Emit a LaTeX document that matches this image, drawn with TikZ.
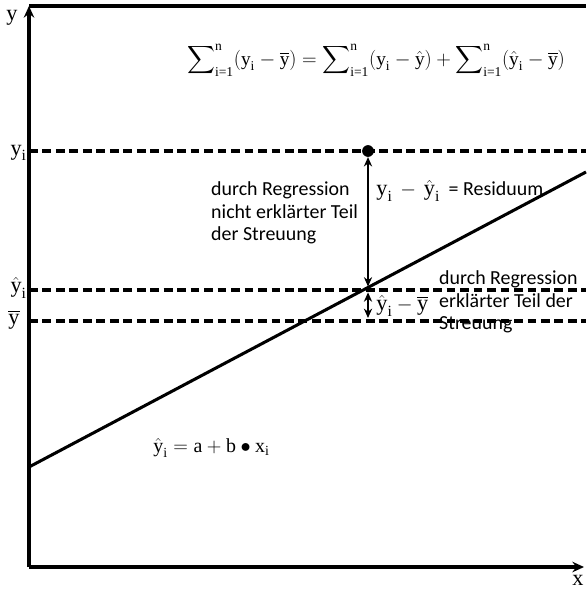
\documentclass[tikz,border=0pt]{standalone}
\usepackage{amsmath,amssymb}
\usepackage{fontspec}
\setmainfont{Carlito}
\newfontfamily\tnr{Liberation Serif}
\usepackage{tikz}
\usetikzlibrary{arrows.meta,positioning,calc}

\newcommand{\tv}[1]{\text{\tnr #1}}
\newcommand{\bigsum}{\displaystyle\sum\nolimits}
\tikzset{
  axis/.style={line width=2.8pt},
  level/.style={line width=2.6pt,dash pattern=on 7.5pt off 4pt},
  fit line/.style={line width=2.6pt},
  span/.style={line width=1.9pt,{Stealth[length=8pt,width=7pt]}-{Stealth[length=8pt,width=7pt]}},
  lbl/.style={font=\fontsize{19}{22}\selectfont,inner sep=1pt},
  note/.style={font=\fontsize{17}{19.6}\selectfont,align=left,inner sep=0pt},
}

\begin{document}
\begin{tikzpicture}[x=0.03cm,y=-0.03cm]
  \useasboundingbox (0,0) rectangle (586,589);
  % axes and frame
  \coordinate (O) at (29,567);
  \coordinate (ytop) at (29,6);
  \coordinate (tr) at (586,6);
  \coordinate (xend) at (584,567);
  \draw[axis,-{Stealth[length=10pt,width=9pt,inset=3.5pt]}] (O) -- (ytop);
  \draw[axis] (ytop) -- (tr);
  \draw[axis,-{Stealth[length=10pt,width=9pt,inset=3.5pt]}] (O) -- (xend);
  \node[lbl] (ylab) at (12,18) {\tnr y};
  \node[lbl,inner sep=0pt] (xlab) at (578,580) {\tnr x};

  % levels
  \coordinate (yiL) at (29,151);  \coordinate (yiR) at (586,151);
  \coordinate (yhL) at (29,290);  \coordinate (yhR) at (586,290);
  \coordinate (ybL) at (29,321);  \coordinate (ybR) at (586,321);
  \draw[level] (yiL) -- (yiR);
  \draw[level] (yhL) -- (yhR);
  \draw[level] (ybL) -- (ybR);
  \node[lbl,anchor=east] (yi) at (28,153) {$\tv{y}_{\tv{i}}$};
  \node[lbl,anchor=east] (yh) at (28,288) {$\hat{\tv{y}}_{\tv{i}}$};
  \node[lbl] (yb) at (14,320) {$\overline{\tv{y}}$};

  % regression line
  \coordinate (rA) at (29,467);
  \coordinate (rB) at (586,172);
  \draw[fit line] (rA) -- (rB);

  % observed point and spans
  \node[circle,fill,inner sep=0pt,minimum size=10pt] (pt) at (368,151) {};
  \coordinate (hit) at (368,290);
  \coordinate (bar) at (368,318);
  \draw[span] (pt.south) -- ([yshift=3pt]hit);
  \draw[span] ([yshift=-2pt]hit) -- (bar);

  % texts
  \node[font=\fontsize{16.5}{20}\selectfont,inner sep=1pt] (sum) at (376,60)
    {$\bigsum_{\tv{i=1}}^{\tv{n}}(\tv{y}_{\tv{i}}-\overline{\tv{y}})
    =\bigsum_{\tv{i=1}}^{\tv{n}}(\tv{y}_{\tv{i}}-\hat{\tv{y}})
    +\bigsum_{\tv{i=1}}^{\tv{n}}(\hat{\tv{y}}_{\tv{i}}-\overline{\tv{y}})$};
  \node[note,anchor=north west] (unexpl) at (211,181) {durch Regression\\nicht erklärter Teil\\der Streuung};
  \node[lbl,anchor=west] (resid) at (375,191) {$\tv{y}_{\tv{i}}\,-\,\hat{\tv{y}}_{\tv{i}}$\, {\fontsize{17}{19}\selectfont= Residuum}};
  \node[lbl,anchor=west] (expd) at (375,306) {$\hat{\tv{y}}_{\tv{i}}-\overline{\tv{y}}$};
  \node[note,anchor=north west] (expl) at (439,270) {durch Regression\\erklärter Teil der\\Streuung};
  \node[font=\fontsize{17}{20}\selectfont,inner sep=1pt,anchor=west] (model) at (152,448) {$\hat{\tv{y}}_{\tv{i}}=\tv{a}+\tv{b}\bullet\tv{x}_{\tv{i}}$};
\end{tikzpicture}
\end{document}
